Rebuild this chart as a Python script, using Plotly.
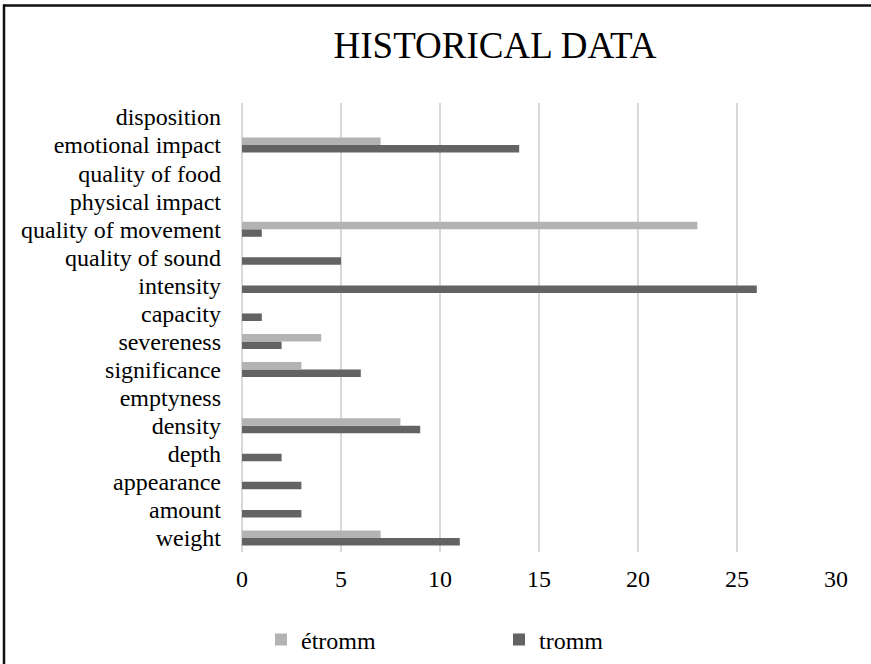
import plotly.graph_objects as go

# Categories listed bottom to top, as they appear on the y axis
categories = [
    "weight", "amount", "appearance", "depth", "density", "emptyness",
    "significance", "severeness", "capacity", "intensity", "quality of sound",
    "quality of movement", "physical impact", "quality of food",
    "emotional impact", "disposition",
]
etromm = [7, None, None, None, 8, None, 3, 4, None, None, None, 23, None, None, 7, None]
tromm = [11, 3, 3, 2, 9, None, 6, 2, 1, 26, 5, 1, None, None, 14, None]
x_ticks = [0, 5, 10, 15, 20, 25, 30]

W, H = 871, 664
L, R, T, B = 242, 35, 103, 112
plot_w = W - L - R
plot_h = H - T - B


def px_x(p):
    return (p - L) / plot_w


def px_y(p):
    return (H - B - p) / plot_h


FONT = "Liberation Serif, Times New Roman, serif"

fig = go.Figure()
fig.add_trace(go.Bar(name="tromm", y=categories, x=tromm, orientation="h",
                     marker=dict(color="#636363", line=dict(width=0))))
fig.add_trace(go.Bar(name="étromm", y=categories, x=etromm, orientation="h",
                     marker=dict(color="#B3B3B3", line=dict(width=0))))

fig.update_layout(
    template="none",
    width=W, height=H,
    margin=dict(l=L, r=R, t=T, b=B, pad=0, autoexpand=False),
    paper_bgcolor="white", plot_bgcolor="white",
    barmode="group", bargap=0.465, bargroupgap=0,
    font=dict(family=FONT, size=24, color="#000000"),
    title=dict(text="HISTORICAL DATA", x=495 / W, xanchor="center",
               y=1 - 45 / H, yanchor="middle", yref="container",
               font=dict(family=FONT, size=37, color="#000000")),
    xaxis=dict(range=[0, 30], tickvals=x_ticks, showgrid=True,
               gridcolor="#D9D9D9", gridwidth=2, zeroline=True,
               zerolinecolor="#D9D9D9", zerolinewidth=2, showline=False,
               ticks="", ticklabelstandoff=10, automargin=False,
               tickfont=dict(family=FONT, size=24, color="#000000")),
    yaxis=dict(categoryorder="array", categoryarray=categories,
               tickmode="array", tickvals=categories, ticktext=categories,
               showgrid=False, zeroline=False, showline=False, ticks="",
               ticklabelstandoff=20, automargin=False,
               tickfont=dict(family=FONT, size=24, color="#000000")),
    legend=dict(orientation="h", x=px_x(261), xanchor="left",
                y=px_y(640), yanchor="middle", traceorder="reversed",
                entrywidth=193, entrywidthmode="pixels",
                font=dict(family=FONT, size=24, color="#000000"),
                bgcolor="rgba(0,0,0,0)", borderwidth=0, itemwidth=30),
    showlegend=True,
)

# Frame lines along the top and left edges of the chart area
fig.add_shape(type="line", xref="paper", yref="paper",
              x0=px_x(3), x1=px_x(W + 2), y0=px_y(5.5), y1=px_y(5.5),
              line=dict(color="#111111", width=2.5))
fig.add_shape(type="line", xref="paper", yref="paper",
              x0=px_x(4), x1=px_x(4), y0=px_y(4.5), y1=px_y(H + 2),
              line=dict(color="#111111", width=2.5))

fig.write_html("out.html")
